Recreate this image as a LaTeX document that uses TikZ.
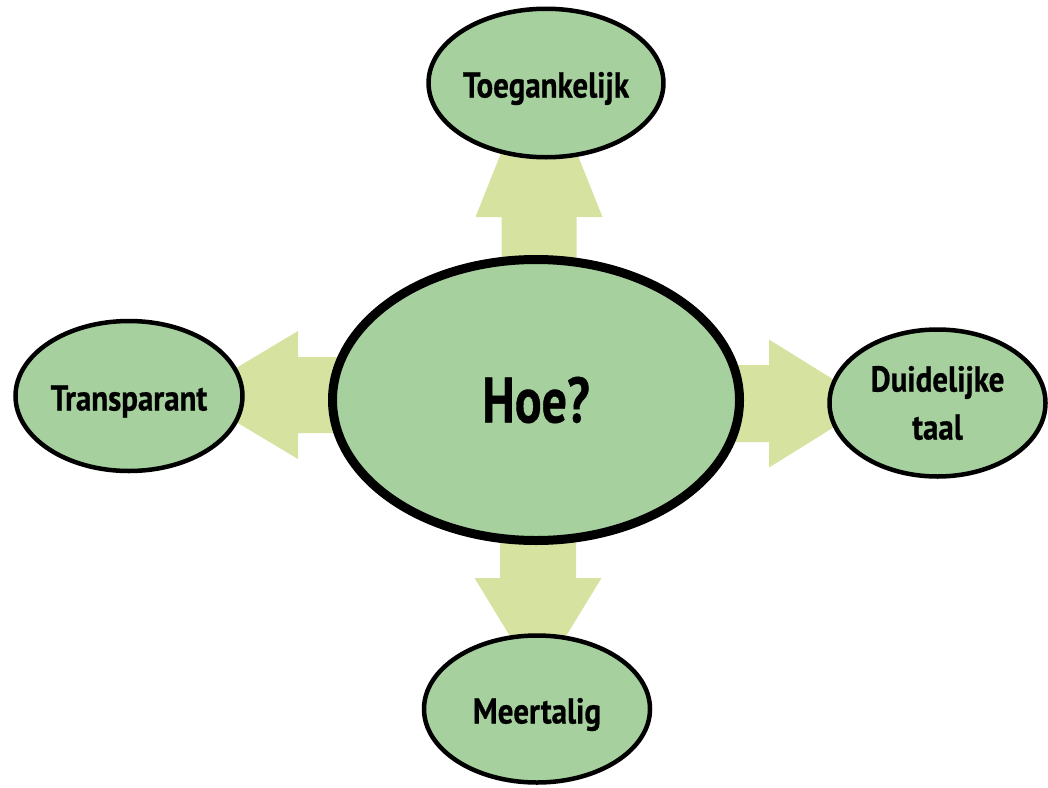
\documentclass[tikz,border=0pt]{standalone}
\usepackage{fontspec}
\setmainfont{PT Sans}[FakeStretch=0.86, FakeBold=0.6]
\newfontfamily\hubfont{PT Sans}[FakeStretch=0.78, FakeBold=0.6]
\usetikzlibrary{shapes.geometric,calc}
\definecolor{nodefill}{RGB}{166,208,158}
\definecolor{arrowfill}{RGB}{214,226,160}
\tikzset{
  bubble/.style={ellipse, draw=black, fill=nodefill, line width=4.5pt, inner sep=0pt,
    align=center, font=\bfseries\fontsize{36}{48}\selectfont},
  oneline/.style={text height=29pt, text depth=0pt},
  hub/.style={bubble, line width=9pt, font=\hubfont\bfseries\fontsize{64}{66}\selectfont},
  blockarrow/.style={fill=arrowfill}
}
% block arrow: origin, direction, half shaft, head base, half head, tip
\newcommand\blockarrow[6]{%
  \fill[blockarrow, shift={#1}, rotate=#2]
    (0,-#3) -- (#4,-#3) -- (#4,-#5) -- (#6,0) -- (#4,#5) -- (#4,#3) -- (0,#3) -- cycle;}
\begin{document}
\begin{tikzpicture}[x=1pt, y=-1pt]
  \useasboundingbox (0,0) rectangle (1048,787);
  \coordinate (hubc) at (536,400);
  % arrows behind the ellipses
  \blockarrow{($(hubc)+(3,0)$)}{90}{37.5}{183}{63.5}{342}
  \blockarrow{($(hubc)+(0,-5)$)}{180}{38}{238}{64}{345}
  \blockarrow{($(hubc)+(0,3.5)$)}{0}{38.5}{233}{64}{336}
  \blockarrow{($(hubc)+(2,0)$)}{270}{38}{178}{63.5}{282}
  % ellipses
  \node[hub, minimum width=407pt, minimum height=281pt] (hoe) at (hubc) {Hoe?};
  \node[bubble, oneline, minimum width=227.5pt, minimum height=148.5pt] (toe) at (546,83) {Toegankelijk};
  \node[bubble, oneline, minimum width=227pt, minimum height=150pt] (tra) at (129,396) {Transparant};
  \node[bubble, minimum width=216pt, minimum height=147pt] (dui) at (937.5,403) {Duidelijke\\taal};
  \node[bubble, oneline, minimum width=226pt, minimum height=147pt] (mee) at (537,709) {Meertalig};
\end{tikzpicture}
\end{document}
